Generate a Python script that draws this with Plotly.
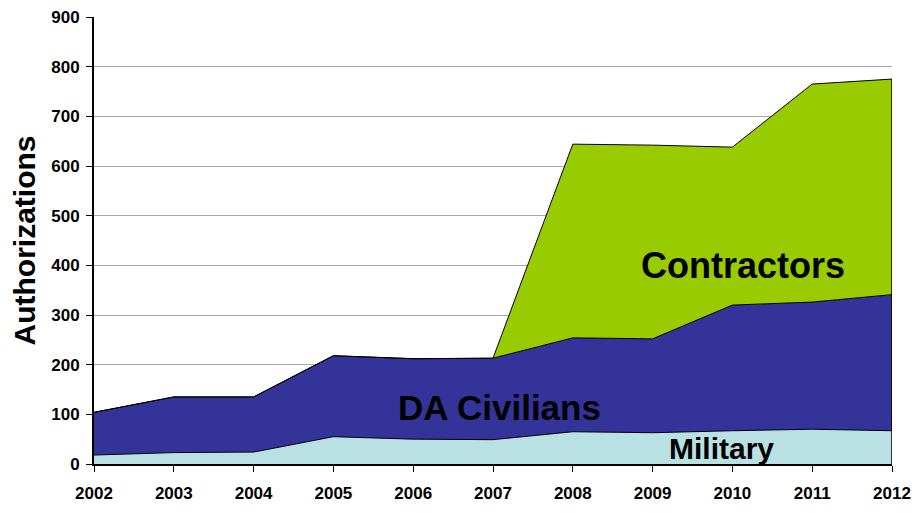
import plotly.graph_objects as go

years = [2002, 2003, 2004, 2005, 2006, 2007, 2008, 2009, 2010, 2011, 2012]
military = [18, 23, 24, 55, 50, 49, 65, 63, 67, 70, 67]
da_civilians = [86, 112, 111, 163, 162, 164, 189, 189, 253, 256, 274]
contractors = [0, 0, 0, 0, 0, 0, 390, 390, 318, 439, 434]
y_ticks = [0, 100, 200, 300, 400, 500, 600, 700, 800, 900]

fig = go.Figure()
series = [
    ("Military", military, "#B9E1E3"),
    ("DA Civilians", da_civilians, "#333399"),
    ("Contractors", contractors, "#99CC00"),
]
for name, vals, col in series:
    fig.add_trace(go.Scatter(
        x=years, y=vals, name=name, mode="lines", stackgroup="one",
        line=dict(color="black", width=1), fillcolor=col,
        hoverinfo="x+y+name",
    ))

# right edge outline of the stacked areas
total_last = military[-1] + da_civilians[-1] + contractors[-1]
fig.add_trace(go.Scatter(x=[years[-1], years[-1]], y=[0, total_last], mode="lines",
                         line=dict(color="black", width=1.5), hoverinfo="skip"))

font_main = "Liberation Sans, Arial, sans-serif"
fig.update_layout(
    width=916, height=505,
    margin=dict(l=86, r=32, t=9, b=49),
    paper_bgcolor="white", plot_bgcolor="white",
    showlegend=False,
    font=dict(family=font_main, color="black"),
    xaxis=dict(
        range=[2002, 2012], tickvals=years, ticktext=[str(y) for y in years],
        showgrid=False, showline=True, linecolor="black", linewidth=2,
        ticks="outside", ticklen=6, tickcolor="black",
        tickfont=dict(size=17, family=font_main, weight="bold"),
        ticklabelstandoff=7, ticklabeloverflow="allow",
        zeroline=False, automargin=False,
    ),
    yaxis=dict(
        range=[0, 900], tickvals=y_ticks,
        showgrid=True, gridcolor="#AAAAAA", gridwidth=1,
        showline=True, linecolor="black", linewidth=2,
        ticks="outside", ticklen=6, tickcolor="black",
        tickfont=dict(size=17, family=font_main, weight="bold"),
        ticklabelstandoff=3, ticklabeloverflow="allow",
        title=dict(text="<b>Authorizations</b>", font=dict(size=30, family=font_main), standoff=12),
        zeroline=False, automargin=False,
    ),
)

fig.add_annotation(x=2010.13, y=400, text="<b>Contractors</b>", showarrow=False,
                   font=dict(size=36, family=font_main, color="black"))
fig.add_annotation(x=2007.08, y=113, text="<b>DA Civilians</b>", showarrow=False,
                   font=dict(size=35, family=font_main, color="black"))
fig.add_annotation(x=2009.86, y=32, text="<b>Military</b>", showarrow=False,
                   font=dict(size=30, family=font_main, color="black"))

fig.write_html("out.html")
